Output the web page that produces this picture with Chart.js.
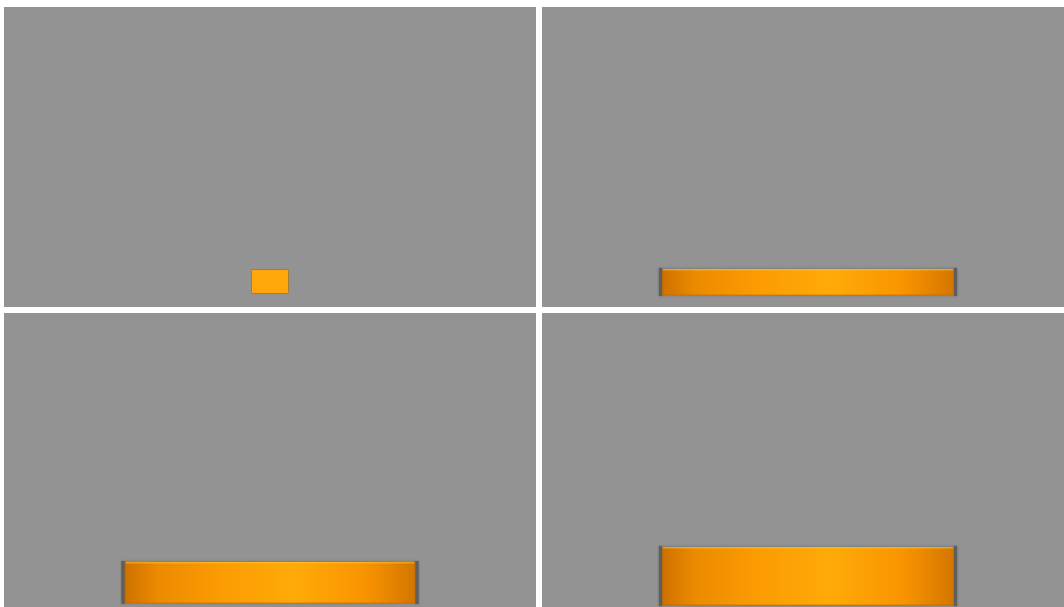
<!DOCTYPE html>
<html>
<head>
<meta charset="utf-8">
<script src="https://cdn.jsdelivr.net/npm/chart.js@4/dist/chart.umd.min.js"></script>
<style>
  html, body { margin: 0; padding: 0; background: #ffffff; overflow: hidden; }
  body { width: 1064px; height: 607px; position: relative; }
  .panel { position: absolute; width: 532px; height: 300px; background: #939393; }
</style>
</head>
<body>
<div class="panel" style="left:4px; top:7px;"><canvas id="frame1"></canvas></div>
<div class="panel" style="left:542px; top:7px;"><canvas id="frame2"></canvas></div>
<div class="panel" style="left:4px; top:313px;"><canvas id="frame3"></canvas></div>
<div class="panel" style="left:542px; top:313px;"><canvas id="frame4"></canvas></div>
<script>
// one bar per frame, panel is 532 units wide and 300 units high
const frameIds = ["frame1", "frame2", "frame3", "frame4"];
const barWidths = [38, 296, 295, 296];   // horizontal extent of the bar
const barBottoms = [13, 12, 10, 8];      // measured up from the panel bottom
const barTops = [38, 38, 51, 66];
const panelUnits = 532;

// bar skin: caps on the ends of the long bars, flat fill for the tiny one
const withCaps = [false, true, true, true];

const barSkin = {
  id: "barSkin",
  beforeDatasetsDraw(chart) {
    const ctx = chart.ctx;
    ctx.save();
    ctx.shadowColor = "rgba(70,70,70,0.5)";
    ctx.shadowBlur = 3;
  },
  afterDatasetsDraw(chart, args, opts) {
    const ctx = chart.ctx;
    ctx.restore();
    if (!opts.caps) return;
    chart.getDatasetMeta(0).data.forEach((bar) => {
      const p = bar.getProps(["x", "y", "base", "width"], true);
      const left = p.x - p.width / 2;
      const right = p.x + p.width / 2;
      const top = Math.min(p.y, p.base);
      const h = Math.abs(p.base - p.y);
      ctx.save();
      // soft top highlight
      ctx.fillStyle = "rgba(255,196,40,0.55)";
      ctx.fillRect(left + 3, top, p.width - 6, 1.5);
      // bottom edge
      ctx.fillStyle = "rgba(170,95,0,0.25)";
      ctx.fillRect(left + 3, top + h - 1, p.width - 6, 1);
      // end caps
      ctx.shadowColor = "rgba(70,70,70,0.6)";
      ctx.shadowBlur = 2;
      ctx.fillStyle = "#5e5e5e";
      ctx.fillRect(left - 1, top - 1, 3, h + 2);
      ctx.fillRect(right - 2, top - 1, 3, h + 2);
      ctx.restore();
    });
  },
};

function drawFrame(i) {
  const pct = barWidths[i] / panelUnits;
  const caps = withCaps[i];

  const data = {
    labels: [frameIds[i]],
    datasets: [
      {
        data: [[barBottoms[i], barTops[i]]],
        backgroundColor: (c) => {
          const chart = c.chart;
          const area = chart.chartArea;
          if (!area || !caps) return "#ffa60a";
          const cx = chart.scales.x.getPixelForValue(0);
          const half = (area.width * pct) / 2;
          const g = chart.ctx.createLinearGradient(cx - half, 0, cx + half, 0);
          g.addColorStop(0, "#cc7000");
          g.addColorStop(0.12, "#ec8a00");
          g.addColorStop(0.32, "#fb9b02");
          g.addColorStop(0.58, "#ffaa08");
          g.addColorStop(0.82, "#f99400");
          g.addColorStop(1, "#d27500");
          return g;
        },
        borderColor: caps ? "rgba(0,0,0,0)" : "#b98a3a",
        borderWidth: caps ? 0 : 1,
        borderSkipped: false,
        categoryPercentage: 1,
        barPercentage: pct,
      },
    ],
  };

  const config = {
    type: "bar",
    data: data,
    plugins: [barSkin],
    options: {
      responsive: true,
      maintainAspectRatio: false,
      animation: false,
      events: [],
      layout: { padding: 0 },
      plugins: {
        legend: { display: false },
        tooltip: { enabled: false },
        barSkin: { caps: caps },
      },
      scales: {
        x: { display: false, offset: true },
        y: { display: false, min: 0, max: 300 },
      },
    },
  };

  const ctx = document.getElementById(frameIds[i]).getContext("2d");
  new Chart(ctx, config);
}

frameIds.forEach((id, i) => drawFrame(i));
</script>
</body>
</html>
